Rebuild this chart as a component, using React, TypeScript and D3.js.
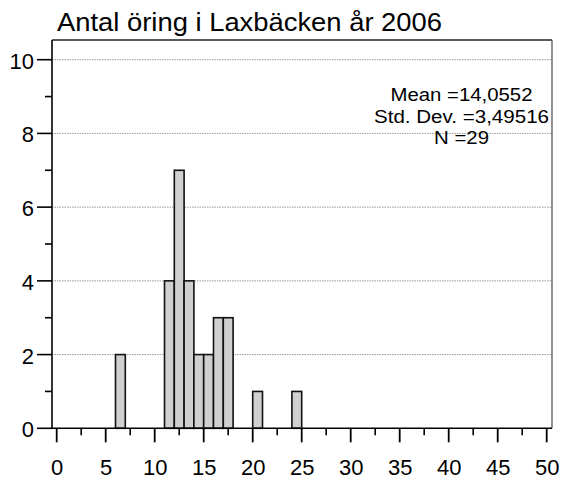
import React from "react";
import * as d3 from "d3";

const binStarts = [6, 11, 12, 13, 14, 15, 16, 17, 20, 24];
const counts = [2, 4, 7, 4, 2, 2, 3, 3, 1, 1];
const xTicks = [0, 5, 10, 15, 20, 25, 30, 35, 40, 45, 50];
const xMinorTicks = [2.5, 7.5, 12.5, 17.5, 22.5, 27.5, 32.5, 37.5, 42.5, 47.5];
const yTicks = [0, 2, 4, 6, 8, 10];
const yMinorTicks = [1, 3, 5, 7, 9];
const statLines = ["Mean =14,0552", "Std. Dev. =3,49516", "N =29"];
const statWidths = [142, 175, 55];
const title = "Antal öring i Laxbäcken år 2006";

export default function App() {
  const W = 561, H = 479;
  const left = 52, right = 552, top = 40, bottom = 428.3;
  const x = d3.scaleLinear().domain([0, 50]).range([56.7, 546.7]);
  const y = d3.scaleLinear().domain([0, 10]).range([428.3, 59.7]);
  const font = "'Liberation Sans', Arial, Helvetica, sans-serif";
  return (
    <svg width={W} height={H} style={{ position: "absolute", left: 0, top: 0 }} fontFamily={font}>
      <rect x={0} y={0} width={W} height={H} fill="#fff" />
      <text x={57} y={31} fontSize={25} fill="#000" textLength={385} lengthAdjust="spacingAndGlyphs">{title}</text>
      {yTicks.filter((t) => t > 0).map((t) => (
        <line key={"g" + t} x1={left} x2={right} y1={y(t)} y2={y(t)} stroke="#9a9a9a" strokeWidth={1} strokeDasharray="1.5,1" />
      ))}
      {binStarts.map((b, i) => (
        <rect key={"b" + i} x={x(b)} y={y(counts[i])} width={x(b + 1) - x(b)} height={y(0) - y(counts[i])} fill="#d0d0d0" stroke="#111" strokeWidth={1.6} />
      ))}
      <line x1={left} x2={right} y1={top} y2={top} stroke="#222" strokeWidth={1.3} />
      <line x1={right} x2={right} y1={top} y2={bottom} stroke="#555" strokeWidth={1.3} />
      <line x1={left} x2={left} y1={top} y2={bottom} stroke="#000" strokeWidth={1.6} />
      <line x1={left} x2={right} y1={bottom} y2={bottom} stroke="#000" strokeWidth={1.6} />
      {yTicks.map((t) => (
        <g key={"yt" + t}>
          <line x1={left - 15} x2={left} y1={y(t)} y2={y(t)} stroke="#000" strokeWidth={1.6} />
          <text x={34} y={y(t) + 9} fontSize={22} textAnchor="end" fill="#000">{t}</text>
        </g>
      ))}
      {yMinorTicks.map((t) => (
        <line key={"ym" + t} x1={left - 7} x2={left} y1={y(t)} y2={y(t)} stroke="#000" strokeWidth={1.6} />
      ))}
      {xTicks.map((t) => (
        <g key={"xt" + t}>
          <line x1={x(t)} x2={x(t)} y1={bottom} y2={bottom + 14} stroke="#000" strokeWidth={1.8} />
          <text x={x(t) + 0.5} y={475} fontSize={22} textAnchor="middle" fill="#000">{t}</text>
        </g>
      ))}
      {xMinorTicks.map((t) => (
        <line key={"xm" + t} x1={x(t)} x2={x(t)} y1={bottom} y2={bottom + 7} stroke="#000" strokeWidth={1.6} />
      ))}
      {statLines.map((s, i) => (
        <text key={"s" + i} x={461.5 - statWidths[i] / 2} y={100.7 + i * 21.8} fontSize={17.5} fill="#000" textLength={statWidths[i]} lengthAdjust="spacingAndGlyphs">{s}</text>
      ))}
    </svg>
  );
}
